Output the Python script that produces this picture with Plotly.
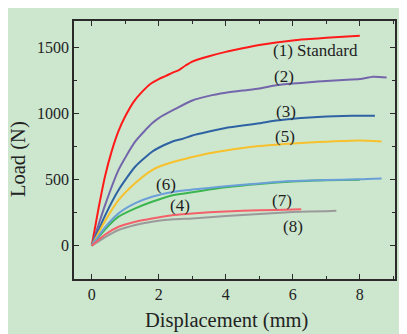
import plotly.graph_objects as go

# ---- data ----
x1 = [0, 0.2, 0.4, 0.6, 0.8, 1.0, 1.25, 1.5, 1.75, 2.0, 2.2, 2.45, 2.6, 2.8, 3.0, 3.5, 4.0, 4.5, 5.0, 5.5, 6.0, 6.5, 7.0, 7.5, 8.0]
y1 = [0, 280, 530, 720, 870, 980, 1090, 1165, 1225, 1262, 1285, 1315, 1330, 1365, 1395, 1435, 1468, 1495, 1520, 1540, 1555, 1565, 1575, 1582, 1590]

x2 = [0, 0.4, 0.8, 1.3, 1.8, 2.0, 2.45, 3.0, 3.5, 4.0, 4.5, 5.0, 5.5, 6.0, 6.5, 7.0, 7.5, 8.0, 8.4, 8.8]
y2 = [0, 310, 575, 790, 927, 967, 1030, 1100, 1135, 1158, 1175, 1190, 1215, 1228, 1238, 1248, 1255, 1262, 1280, 1275]

x3 = [0, 0.4, 0.8, 1.3, 1.8, 2.0, 2.45, 2.7, 3.0, 3.5, 4.0, 4.5, 5.0, 5.5, 6.0, 6.5, 7.0, 7.5, 8.0, 8.45]
y3 = [0, 230, 422, 600, 712, 742, 793, 808, 835, 865, 892, 910, 928, 948, 962, 972, 978, 982, 985, 985]

x5 = [0, 0.4, 0.8, 1.3, 1.8, 2.0, 2.45, 3.0, 3.5, 4.0, 4.5, 5.0, 5.5, 6.0, 6.5, 7.0, 7.5, 8.0, 8.65]
y5 = [0, 190, 346, 475, 573, 598, 636, 672, 700, 722, 740, 755, 765, 775, 782, 788, 793, 797, 790]

x6 = [0, 0.4, 0.8, 1.3, 1.8, 2.45, 3.0, 3.5, 4.0, 5.0, 6.0, 7.0, 8.0, 8.65]
y6 = [0, 140, 245, 322, 371, 409, 425, 438, 450, 472, 490, 498, 503, 510]

x4 = [0, 0.4, 0.8, 1.3, 1.8, 2.45, 3.0, 3.5, 4.0, 5.0, 6.0, 7.0, 8.0]
y4 = [0, 125, 220, 283, 333, 384, 405, 425, 443, 468, 486, 495, 500]

x7 = [0, 0.4, 0.8, 1.3, 1.8, 2.45, 3.0, 4.0, 5.0, 6.0, 6.25]
y7 = [0, 85, 144, 182, 207, 232, 245, 260, 268, 274, 276]

x8 = [0, 0.4, 0.8, 1.3, 1.8, 2.45, 3.0, 4.0, 5.0, 6.0, 7.0, 7.3]
y8 = [0, 65, 119, 157, 182, 200, 207, 225, 240, 255, 262, 265]

series = [
    ("(1)", x1, y1, "#ff1a1a"),
    ("(2)", x2, y2, "#7466ab"),
    ("(3)", x3, y3, "#2e62a3"),
    ("(5)", x5, y5, "#f7c12d"),
    ("(4)", x4, y4, "#3cb54f"),
    ("(6)", x6, y6, "#6a9fd8"),
    ("(8)", x8, y8, "#9a9a9a"),
    ("(7)", x7, y7, "#f4606a"),
]

labels_text = ["(1) Standard", "(2)", "(3)", "(5)", "(6)", "(4)", "(7)", "(8)"]
labels_x = [6.69, 5.73, 5.81, 5.76, 2.23, 2.63, 5.69, 6.01]
labels_y = [1480, 1285, 1015, 831, 467, 308, 346, 149]

x_ticks = [0, 2, 4, 6, 8]
y_ticks = [0, 500, 1000, 1500]

FONT = "Liberation Serif, Times New Roman, serif"

# page layout: browser body margin puts the figure at (8, 8)
PL, PT, PW, PH = 74 - 8, 21 - 8, 321, 258   # plot area in figure pixels

fig = go.Figure()
for name, xs, ys, c in series:
    fig.add_trace(go.Scatter(x=xs, y=ys, mode="lines", name=name,
                             line=dict(color=c, width=2, shape="spline", smoothing=0.6),
                             showlegend=False, hoverinfo="skip"))

for t, lx, ly in zip(labels_text, labels_x, labels_y):
    fig.add_annotation(x=lx, y=ly, text=t, showarrow=False,
                       xanchor="center", yanchor="middle",
                       font=dict(family=FONT, size=17, color="#1e1e1e"))

# axis titles as paper-anchored text (page pixel targets)
fig.add_annotation(xref="paper", yref="paper", x=(226 - 74) / PW, y=(279 - 320) / PH,
                   xanchor="center", yanchor="middle",
                   text="Displacement (mm)", showarrow=False,
                   font=dict(family=FONT, size=20.5, color="#222"))
fig.add_annotation(xref="paper", yref="paper", x=(18 - 74) / PW, y=(279 - 159) / PH,
                   xanchor="center", yanchor="middle",
                   text="Load (N)", showarrow=False, textangle=-90,
                   font=dict(family=FONT, size=20.5, color="#222"))

axis_common = dict(showline=True, linecolor="#2a2a2a", linewidth=1.5, mirror="allticks",
                   ticks="inside", ticklen=5, tickwidth=1.3, tickcolor="#2a2a2a",
                   showgrid=False, zeroline=False, automargin=False,
                   tickfont=dict(family=FONT, size=16, color="#222"))

fig.update_xaxes(range=[-0.53, 9.05], tickvals=x_ticks,
                 minor=dict(dtick=1, tick0=0, ticks="inside", ticklen=3, tickwidth=1.2, tickcolor="#2a2a2a"),
                 **axis_common)
fig.update_yaxes(range=[-252, 1702], tickvals=y_ticks,
                 minor=dict(dtick=250, tick0=0, ticks="inside", ticklen=3, tickwidth=1.2, tickcolor="#2a2a2a"),
                 **axis_common)

W, H = 407 - 8, 334 - 8
fig.update_layout(width=W, height=H, autosize=False,
                  margin=dict(l=PL, r=W - PL - PW, t=PT, b=H - PT - PH),
                  paper_bgcolor="#cde7cf", plot_bgcolor="#cde7cf")

fig.write_html("out.html")
